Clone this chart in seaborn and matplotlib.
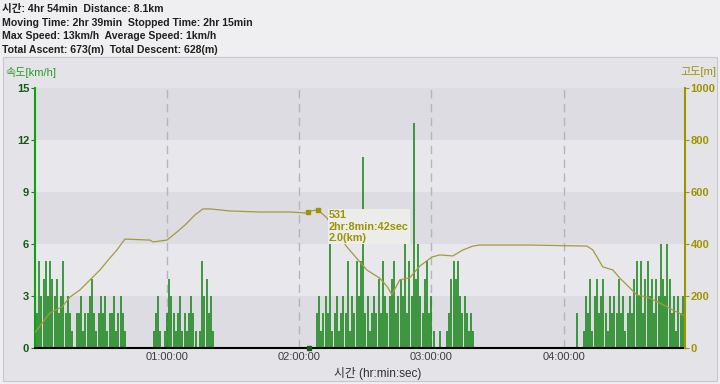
import numpy as np
import pandas as pd
import matplotlib
matplotlib.use("Agg")
import matplotlib.pyplot as plt
from matplotlib.patches import Rectangle
import seaborn as sns

# speed (km/h), one value per minute from 0 to 294
speed = [6, 2, 5, 3, 4, 5, 3, 5, 4, 3, 4, 2, 3, 5, 2, 3, 2, 1,
         0, 2,
         2, 3, 1, 2, 2, 3, 4, 2, 1, 2, 3, 2, 3, 1, 2, 2, 3, 1, 2, 3, 2, 1,
         0, 0, 0, 0, 0, 0, 0, 0, 0, 0, 0, 0,
         1, 2, 3, 1, 0, 1, 2, 4, 3, 2, 1, 2, 3, 1, 2, 1, 2, 3, 2, 1, 0, 1, 5, 3, 4, 2, 3, 1,
         0, 0, 0, 0, 0, 0, 0, 0, 0, 0, 0, 0, 0, 0, 0, 0, 0, 0, 0, 0, 0, 0, 0,
         0, 0, 0, 0, 0, 0, 0, 0, 0, 0, 0, 0, 0, 0, 0, 0, 0, 0, 0, 0, 0, 0, 0,
         2, 3, 1, 2, 3, 2, 6, 1, 2, 3, 1, 2, 3, 2, 5, 1, 3, 2, 5, 3, 5, 11, 2, 3, 1,
         2, 3, 2, 4, 2, 5, 3, 2, 3, 4, 5, 2, 3, 4, 3, 7, 2, 5, 3, 13, 4, 6, 3, 2, 4,
         5, 2, 3, 1, 0, 0, 1, 0, 0, 1, 2, 4, 5, 4, 5, 3, 2, 3, 2, 1, 2, 1, 0,
         0, 0, 0, 0, 0, 0, 0, 0, 0, 0, 0, 0, 0, 0, 0, 0, 0, 0, 0, 0, 0, 0, 0,
         0, 0, 0, 0, 0, 0, 0, 0, 0, 0, 0, 0, 0, 0, 0, 0, 0, 0, 0, 0, 0, 0,
         2, 0, 0, 1, 3, 2, 4, 1, 3, 4, 2, 3, 4, 2, 1, 3, 2, 3, 2, 4, 2, 3, 1, 2, 3,
         2, 4, 5, 3, 5, 2, 4, 5, 3, 4, 2, 4, 3, 6, 4, 3, 6, 4, 2, 3, 1, 3, 2, 3]
speed_min = list(range(len(speed)))

# altitude (m) against elapsed minutes
alt_min = [0, 1, 6.9, 12.4, 16, 20.5, 25.1, 29.6, 34.1, 37.3, 40.9, 52.3, 53.6, 60,
           64.5, 68.2, 72.7, 76.3, 79.5, 88.6, 102.2, 115.8, 123.5, 124.8, 128.5,
           132.6, 135.3, 141.6, 147.5, 150.7, 156.6, 160, 162, 165.6, 170.1, 174.7,
           180.2, 183.8, 189.7, 194.2, 198.8, 201.9, 224.6, 250.5, 253.2, 257.7,
           262.3, 265.4, 270, 273.1, 277.7, 283.6, 289.5, 294.9]
alt = [58, 69, 135, 158, 196, 223, 262, 300, 346, 377, 419, 415, 408, 415,
       446, 473, 512, 535, 535, 527, 523, 523, 519, 527, 531,
       500, 462, 389, 331, 300, 268, 235, 205, 262, 270, 315,
       350, 358, 354, 377, 392, 396, 396, 392, 377, 312,
       300, 269, 231, 204, 196, 173, 146, 123]

hour_ticks = [60, 120, 180, 240]
hour_labels = ["01:00:00", "02:00:00", "03:00:00", "04:00:00"]
speed_ticks = [0, 3, 6, 9, 12, 15]
alt_ticks = [0, 200, 400, 600, 800, 1000]

header = ["시간: 4hr 54min  Distance: 8.1km",
          "Moving Time: 2hr 39min  Stopped Time: 2hr 15min",
          "Max Speed: 13km/h  Average Speed: 1km/h",
          "Total Ascent: 673(m)  Total Descent: 628(m)"]

sns.set_style("white")
plt.rcParams["font.family"] = ["Liberation Sans", "Noto Sans CJK KR"]

GREEN = "#128412"
DKGREEN = "#145a14"
OLIVE = "#9c9400"
LINE = "#a39a3c"

df_speed = pd.DataFrame({"t": speed_min, "v": speed})
df_alt = pd.DataFrame({"t": alt_min, "alt": alt})

fig = plt.figure(figsize=(7.2, 3.84), dpi=100, facecolor="#efeff1")
fig.patches.append(Rectangle((3 / 720, 3 / 384), 714 / 720, 324 / 384,
                             transform=fig.transFigure, facecolor="#e4e4e8",
                             edgecolor="#c8c8cc", lw=0.8, zorder=-5))

ax = fig.add_axes([0.0482, 0.0938, 0.9032, 0.677])
ax.set_facecolor("#e8e8ec")
for lo in [0, 6, 12]:
    ax.axhspan(lo, lo + 3, color="#dcdce2", lw=0, zorder=0)
for h in hour_ticks:
    ax.axvline(h, color="#b4b4ba", lw=1.0, dashes=(6, 4), zorder=1)

ax.vlines(df_speed["t"], 0, df_speed["v"], color=GREEN, lw=1.12, zorder=2)
ax.plot([124.4], [0], marker="s", ms=3.5, color=DKGREEN, clip_on=False, zorder=5)

ax.set_xlim(0, 295)
ax.set_ylim(0, 15)
ax.set_xticks(hour_ticks)
ax.set_xticklabels(hour_labels, color="#3c3c3c", fontsize=8)
ax.set_yticks(speed_ticks)
ax.set_yticklabels(speed_ticks, color=DKGREEN, fontsize=8, fontweight="bold")
ax.tick_params(axis="y", length=3, color=GREEN, pad=1)
ax.tick_params(axis="x", length=0, pad=3)
ax.spines["left"].set_color("#10a010")
ax.spines["left"].set_linewidth(1.5)
ax.spines["bottom"].set_color("black")
ax.spines["bottom"].set_linewidth(1.5)
ax.spines["top"].set_visible(False)
ax.spines["right"].set_visible(False)

ax2 = ax.twinx()
sns.lineplot(data=df_alt, x="t", y="alt", ax=ax2, color=LINE, lw=0.9)
ax2.plot([124.0, 128.7], [522, 531], ls="none", marker="s", ms=3.2, color=OLIVE)
ax2.set_ylim(0, 1000)
ax2.set_xlim(0, 295)
ax2.set_yticks(alt_ticks)
ax2.set_yticklabels(alt_ticks, color=OLIVE, fontsize=8, fontweight="bold")
ax2.tick_params(axis="y", length=3, color=OLIVE, pad=1)
ax2.set_ylabel("")
ax2.set_xlabel("")
ax2.spines["right"].set_visible(True)
ax2.spines["right"].set_color(OLIVE)
ax2.spines["right"].set_linewidth(1.5)
for s in ["left", "top", "bottom"]:
    ax2.spines[s].set_visible(False)

ax2.text(133.5, 531, "531\n2hr:8min:42sec\n2.0(km)", color=OLIVE, fontsize=7.8,
         fontweight="bold", va="top", ha="left", linespacing=1.2,
         bbox=dict(facecolor="#ececea", edgecolor="none", pad=0.5), zorder=6)

for i, line in enumerate(header):
    fig.text(2 / 720, 1 - (9 + 13.7 * i) / 384, line, fontsize=7.6, fontweight="bold",
             color="#202020", va="center", ha="left")

fig.text(5 / 720, 1 - 72 / 384, "속도[km/h]", color="#2a9a2a", fontsize=8, va="center")
fig.text(716 / 720, 1 - 72 / 384, "고도[m]", color=OLIVE, fontsize=8, va="center", ha="right")
fig.text(378 / 720, 1 - 374 / 384, "시간 (hr:min:sec)", color="#303030", fontsize=8.5,
         va="center", ha="center")

fig.savefig("out.png", dpi=100, facecolor=fig.get_facecolor())
